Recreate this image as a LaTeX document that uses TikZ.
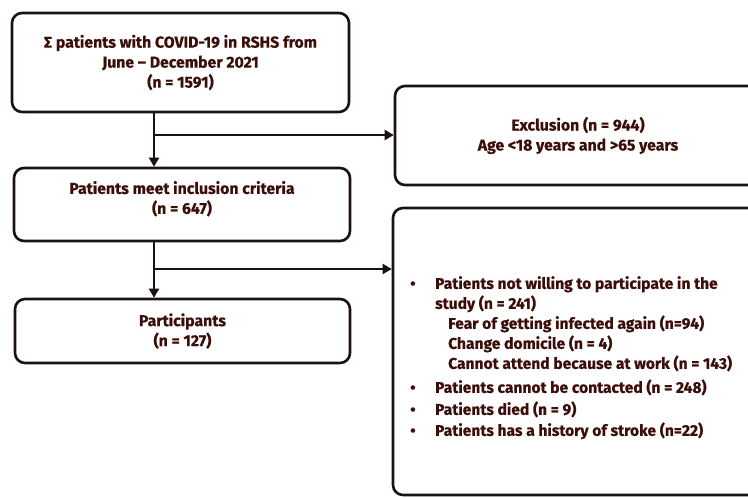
\documentclass[tikz,border=0pt]{standalone}
\usepackage{fontspec}
\setmainfont{Fira Sans}[BoldFeatures={FakeBold=0.5}]
\usetikzlibrary{arrows.meta}
\definecolor{txt}{RGB}{60,14,10}
\definecolor{edge}{RGB}{26,18,18}
\tikzset{
  box/.style={draw=edge, line width=2.6pt, rounded corners=10pt, fill=white,
    align=center, text=txt, font=\bfseries\fontsize{15.8}{20}\selectfont, inner sep=0pt},
  listtext/.style={text=txt, font=\bfseries\fontsize{15.6}{20}\selectfont, align=left, inner sep=0pt},
  conn/.style={draw=edge, line width=2pt, -{Triangle[width=10pt,length=9pt]}}
}
\begin{document}
\begin{tikzpicture}[x=1pt,y=-1pt]
\useasboundingbox (0,0) rectangle (748,498);
\clip (0,0) rectangle (748,498);
\node[box, minimum width=337pt, minimum height=99pt] (total) at (180.5,62.5)
  {∑ patients with COVID-19 in RSHS from\\June -- December 2021\\(n = 1591)};
\node[box, minimum width=336pt, minimum height=73pt] (incl) at (182,204.5)
  {Patients meet inclusion criteria\\(n = 647)\\[-12pt]\strut};
\node[box, minimum width=335pt, minimum height=64pt] (part) at (182.5,331)
  {Participants\\(n = 127)};
\node[box, minimum width=366pt, minimum height=99pt] (excl) at (578,135.5)
  {Exclusion (n = 944)\\Age <18 years and >65 years};
\node[box, minimum width=368pt, minimum height=287pt] (drop) at (577,351.5) {};
\node[listtext, anchor=north west] (droptext) at (408,276)
  {\makebox[27pt][l]{\hspace{2pt}•}Patients not willing to participate in the\\
   \hspace{27pt}study (n = 241)\\
   \hspace{40pt}Fear of getting infected again (n=94)\\
   \hspace{40pt}Change domicile (n = 4)\\
   \hspace{40pt}Cannot attend because at work (n = 143)\\[4pt]
   \makebox[27pt][l]{\hspace{2pt}•}Patients cannot be contacted (n = 248)\\[2pt]
   \makebox[27pt][l]{\hspace{2pt}•}Patients died (n = 9)\\[1pt]
   \makebox[27pt][l]{\hspace{2pt}•}Patients has a history of stroke (n=22)};
\coordinate (s1) at (154,0 |- total.south);
\coordinate (e1) at (154,0 |- incl.north);
\coordinate (s2) at (154,0 |- incl.south);
\coordinate (e2) at (154,0 |- part.north);
\coordinate (b1) at (154,135);
\coordinate (b2) at (154,269);
\draw[conn] (s1) -- (e1);
\draw[conn] (b1) -- (excl.west |- b1);
\draw[conn] (s2) -- (e2);
\draw[conn] (b2) -- (drop.west |- b2);
\end{tikzpicture}
\end{document}
